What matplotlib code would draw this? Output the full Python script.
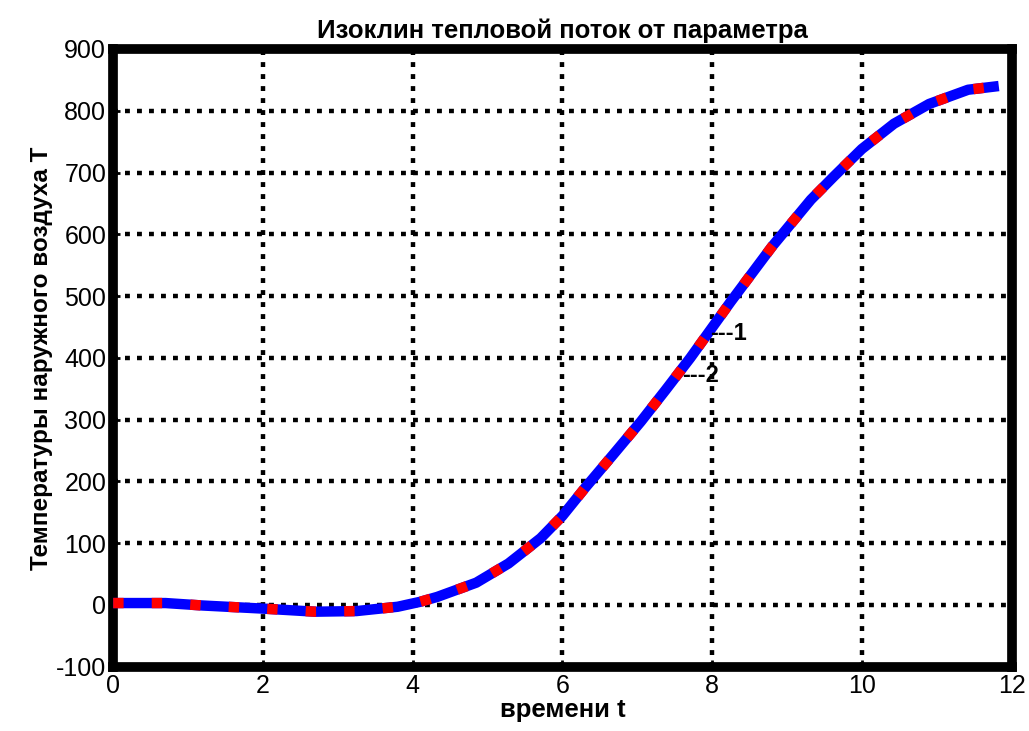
import matplotlib.pyplot as plt
import numpy as np

plt.rcParams['font.family'] = ['Liberation Sans', 'DejaVu Sans']
plt.rcParams['axes.unicode_minus'] = False

# data
t = [0.0, 0.7, 1.2, 2.0, 2.7, 3.25, 3.8, 4.1, 4.33, 4.85, 5.28, 5.71,
     6.0, 6.3, 6.67, 7.05, 7.38, 7.71, 8.25, 8.8, 9.32, 9.63, 10.0,
     10.43, 10.9, 11.42, 11.83]
T = [3, 3, -1, -6, -11, -10, -3, 5, 13, 36, 67, 108,
     144, 189, 242, 297, 348, 400, 491, 580, 656, 694, 738,
     779, 811, 834, 840]

xticks = [0, 2, 4, 6, 8, 10, 12]
yticks = [-100, 0, 100, 200, 300, 400, 500, 600, 700, 800, 900]

fig, ax = plt.subplots(figsize=(10.29, 7.31), dpi=100)
fig.subplots_adjust(left=0.11, right=0.983, top=0.933, bottom=0.088)

ax.plot(t, T, color='#0000ff', linewidth=7.5, solid_capstyle='butt',
        solid_joinstyle='round', zorder=3)
ax.plot(t, T, color='#ff0000', linewidth=7.5, linestyle=(0, (1.0, 2.7)),
        dash_capstyle='butt', zorder=4)

ax.text(7.97, 439, '---1', fontsize=17, fontweight='bold', va='center', ha='left', zorder=5)
ax.text(7.6, 371, '---2', fontsize=17, fontweight='bold', va='center', ha='left', zorder=5)

ax.set_xlim(0, 12)
ax.set_ylim(-100, 900)
ax.set_xticks(xticks)
ax.set_yticks(yticks)
ax.grid(True, color='black', linestyle=(0, (1.1, 1.6)), linewidth=3.2)
ax.tick_params(direction='in', length=5, width=2, labelsize=18, pad=5)
for s in ax.spines.values():
    s.set_linewidth(7)

ax.set_title('Изоклин тепловой поток от параметра', fontsize=18.5, fontweight='bold', pad=8)
ax.set_xlabel('времени t', fontsize=18.5, fontweight='bold', labelpad=0)
ax.set_ylabel('Температуры наружного воздуха T', fontsize=17.5, fontweight='bold', labelpad=2)

plt.savefig('out.png', dpi=100)
